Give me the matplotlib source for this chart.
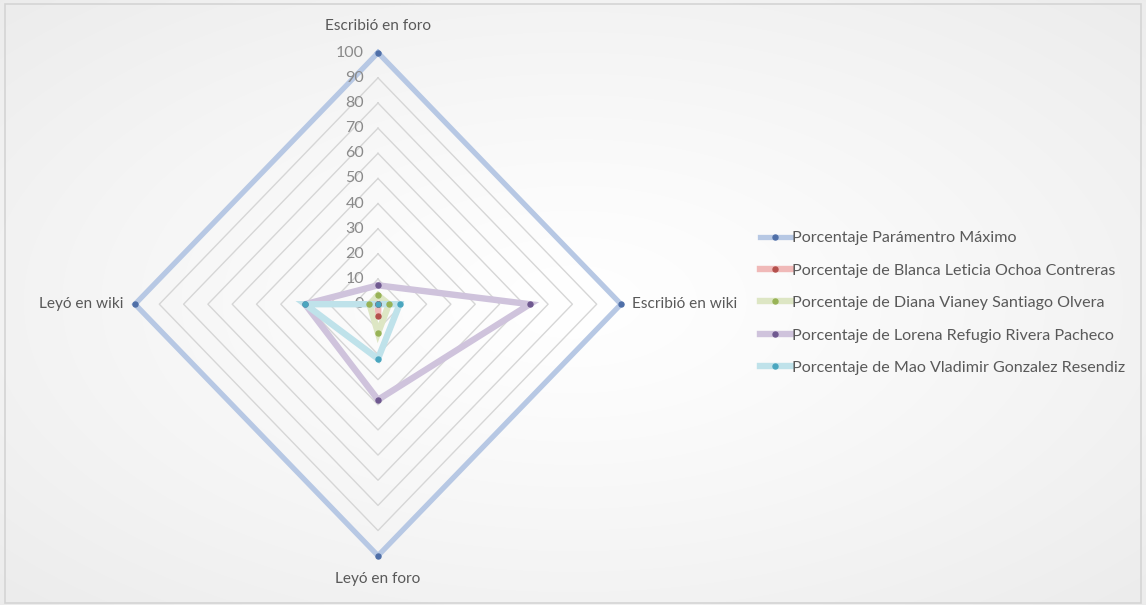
import numpy as np
import matplotlib
matplotlib.use("Agg")
import matplotlib.pyplot as plt
from matplotlib.lines import Line2D
from matplotlib.patches import Rectangle

plt.rcParams['font.family'] = ['Lato', 'DejaVu Sans']

# Radar categories, clockwise from the top
categories = ["Escribió en foro", "Escribió en wiki", "Leyó en foro", "Leyó en wiki"]

series_names = [
    "Porcentaje Parámentro Máximo",
    "Porcentaje de Blanca Leticia Ochoa Contreras",
    "Porcentaje de Diana Vianey Santiago Olvera",
    "Porcentaje de Lorena Refugio Rivera Pacheco",
    "Porcentaje de Mao Vladimir Gonzalez Resendiz",
]
maximo = [100, 100, 100, 100]
blanca = [0, 0, 4.6, 0]
diana = [3.5, 4.5, 11.5, 3.5]
lorena = [7.5, 62.5, 38, 30]
mao = [0, 8.9, 21.7, 30]
series_values = [maximo, blanca, diana, lorena, mao]

ticks = list(range(0, 101, 10))

line_colors = ["#b7c8e4", "#f0b9b8", "#dde6c4", "#cfc3dc", "#bfe2ea"]
dot_colors = ["#4f6fa8", "#b4504c", "#98b356", "#6f5990", "#4aa6bf"]

W, H = 1146, 605
fig = plt.figure(figsize=(W / 100, H / 100), dpi=100)

# soft radial background
bg = fig.add_axes([0, 0, 1, 1])
yy, xx = np.mgrid[0:H, 0:W]
d = np.hypot((xx - W / 2) / (W / 2), (yy - H / 2) / (H / 2)) / np.sqrt(2)
shade = 1.0 - 0.075 * d ** 1.2
bg.imshow(np.dstack([shade, shade, shade]), extent=[0, W, 0, H], origin="lower", aspect="auto")
bg.add_patch(Rectangle((5, 2), W - 10, H - 6, fill=False, edgecolor="#d4d4d4", lw=1.2))
bg.set_xlim(0, W)
bg.set_ylim(0, H)
bg.axis("off")

# radar area
cx0, cx1 = 135, 621
cy0, cy1 = H - 555.7, H - 52.7
ax = fig.add_axes([cx0 / W, cy0 / H, (cx1 - cx0) / W, (cy1 - cy0) / H])
ax.set_xlim(-100, 100)
ax.set_ylim(-100, 100)
ax.axis("off")
ax.patch.set_alpha(0)

dirs = np.array([[0, 1], [1, 0], [0, -1], [-1, 0]], dtype=float)

def to_xy(vals):
    v = np.asarray(vals, dtype=float)
    pts = dirs * v[:, None]
    pts = np.vstack([pts, pts[:1]])
    return pts[:, 0], pts[:, 1]

# diamond gridlines
for t in ticks[1:]:
    gx, gy = to_xy([t] * 4)
    ax.plot(gx, gy, color="#d6d6d6", lw=1.0, zorder=1, clip_on=False)

# value labels along the top spoke
for t in ticks:
    ax.annotate(str(t), xy=(0, t), xytext=(-10, 0), textcoords="offset points",
                ha="right", va="center", fontsize=11.5, color="#8a8a8a")

# category labels
label_pos = [((0, 100), (0, 14), "center", "bottom"),
             ((100, 0), (8, 0), "left", "center"),
             ((0, -100), (0, -12), "center", "top"),
             ((-100, 0), (-8, 0), "right", "center")]
for cat, (xy, off, ha, va) in zip(categories, label_pos):
    ax.annotate(cat, xy=xy, xytext=off, textcoords="offset points",
                ha=ha, va=va, fontsize=11.1, color="#595959")

handles = []
for i, (name, vals) in enumerate(zip(series_names, series_values)):
    x, y = to_xy(vals)
    lw = 3.8 if i == 0 else 4.6
    ax.plot(x, y, color=line_colors[i], lw=lw, solid_joinstyle="miter",
            zorder=2 + i, clip_on=False)
    ax.plot(x[:-1], y[:-1], ls="none", marker="o", ms=3.6,
            color=dot_colors[i], zorder=10 + i, clip_on=False)
    handles.append(Line2D([0], [0], color=line_colors[i], lw=lw, marker="o",
                          ms=3.6, markerfacecolor=dot_colors[i],
                          markeredgecolor=dot_colors[i]))

fig.legend(handles, series_names, loc="center left",
           bbox_to_anchor=(752 / W, 1 - 303 / H), frameon=False,
           fontsize=11.6, labelcolor="#595959", handlelength=1.9,
           handletextpad=0.08, labelspacing=1.13, borderpad=0)

fig.savefig("out.png", dpi=100)
